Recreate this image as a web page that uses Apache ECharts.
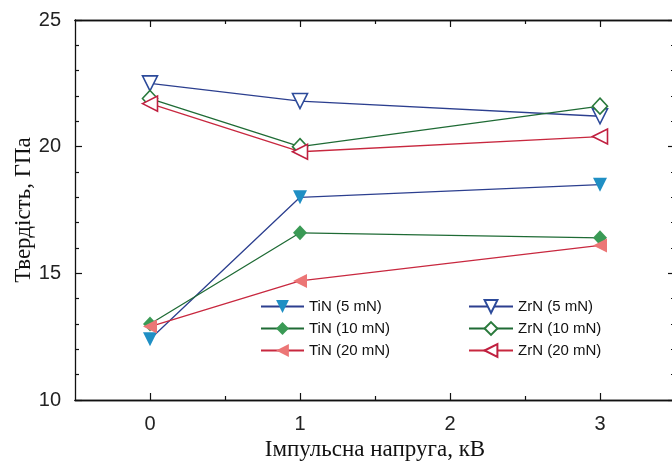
<!DOCTYPE html>
<html>
<head>
<meta charset="utf-8">
<script src="https://cdn.jsdelivr.net/npm/echarts@6/dist/echarts.min.js"></script>
<style>
  html, body { margin: 0; padding: 0; background: #fff; }
  #chart { width: 672px; height: 461px; }
</style>
</head>
<body>
<div id="chart"></div>
<script>
// pulse voltage, kV
const voltage = [0, 1, 3];

// hardness, GPa
const tin5 = [12.4, 18.0, 18.5];
const tin10 = [13.0, 16.6, 16.4];
const tin20 = [12.9, 14.7, 16.1];
const zrn5 = [22.5, 21.8, 21.2];
const zrn10 = [21.9, 20.0, 21.6];
const zrn20 = [21.7, 19.8, 20.4];

const xMajor = [0, 1, 2, 3];
const xMinor = [0.5, 1.5, 2.5];

function pairs(ys) {
    return voltage.map((x, i) => [x, ys[i]]);
}

function makeSeries(name, ys, lineColor, markColor, symbol, rotate, size, hollow) {
    return {
        name: name,
        type: 'line',
        data: pairs(ys),
        symbol: symbol,
        symbolSize: size,
        symbolRotate: rotate,
        lineStyle: { color: lineColor, width: 1.3 },
        itemStyle: hollow
            ? { color: '#fff', borderColor: markColor, borderWidth: 1.6 }
            : { color: markColor, borderWidth: 0 },
        emphasis: { disabled: true }
    };
}

const chart = echarts.init(document.getElementById('chart'), null, { renderer: 'canvas' });

const axisLine = { show: true, onZero: false, lineStyle: { color: '#111', width: 1.3 } };
const tickStyle = { color: '#111', width: 1.2 };

function xAxisDef(pos, values, len, labels) {
    return {
        type: 'value', min: -0.5, max: 3.5, position: pos,
        axisLine: axisLine,
        axisTick: { show: true, inside: true, length: len, customValues: values, lineStyle: tickStyle },
        axisLabel: labels ? {
            show: true, customValues: xMajor, margin: 14,
            fontFamily: 'Liberation Sans', fontSize: 20, color: '#222'
        } : { show: false },
        splitLine: { show: false }
    };
}

function yAxisDef(pos, labels) {
    return {
        type: 'value', min: 10, max: 25, interval: 5, position: pos,
        axisLine: axisLine,
        axisTick: { show: true, inside: true, length: 7, lineStyle: tickStyle },
        minorTick: { show: true, splitNumber: 5, length: 4, lineStyle: tickStyle },
        axisLabel: labels ? {
            show: true, margin: 14,
            fontFamily: 'Liberation Sans', fontSize: 20, color: '#222'
        } : { show: false },
        splitLine: { show: false },
        minorSplitLine: { show: false }
    };
}

const xs = [
    xAxisDef('bottom', xMajor, 7, true),
    xAxisDef('top', xMajor, 7, false),
    xAxisDef('bottom', xMinor, 4, false),
    xAxisDef('top', xMinor, 4, false)
];
xs[0].name = 'Імпульсна напруга, кВ';
xs[0].nameLocation = 'middle';
xs[0].nameGap = 36;
xs[0].nameTextStyle = { fontFamily: 'Liberation Serif', fontSize: 23, color: '#111' };

const ys = [yAxisDef('left', true), yAxisDef('right', false)];
ys[0].name = 'Твердість, ГПа';
ys[0].nameLocation = 'middle';
ys[0].nameGap = 40;
ys[0].nameMoveOverlap = false;
ys[0].nameTextStyle = { fontFamily: 'Liberation Serif', fontSize: 23, color: '#111' };

const legendText = { fontFamily: 'Liberation Sans', fontSize: 15, color: '#111' };

chart.setOption({
    animation: false,
    grid: { left: 75, right: -3, top: 20, bottom: 61, outerBoundsMode: 'none' },
    xAxis: xs,
    yAxis: ys,
    legend: [
        {
            orient: 'vertical', left: 260, top: 299, padding: 0,
            itemWidth: 43, itemHeight: 16, itemGap: 7,
            textStyle: legendText,
            data: ['TiN (5 mN)', 'TiN (10 mN)', 'TiN (20 mN)']
        },
        {
            orient: 'vertical', left: 468, top: 299, padding: 0,
            itemWidth: 44, itemHeight: 16, itemGap: 7,
            textStyle: legendText,
            data: ['ZrN (5 mN)', 'ZrN (10 mN)', 'ZrN (20 mN)']
        }
    ],
    series: [
        makeSeries('TiN (5 mN)', tin5, '#2c3f8f', '#1f8fc4', 'triangle', 180, 14, false),
        makeSeries('TiN (10 mN)', tin10, '#1f6b35', '#3a9a55', 'diamond', 0, [14, 15], false),
        makeSeries('TiN (20 mN)', tin20, '#c8283f', '#ec7676', 'triangle', 90, 14, false),
        makeSeries('ZrN (5 mN)', zrn5, '#2c3f8f', '#2c4a9a', 'triangle', 180, 15, true),
        makeSeries('ZrN (10 mN)', zrn10, '#1f6b35', '#2a7a3c', 'diamond', 0, [15, 16], true),
        makeSeries('ZrN (20 mN)', zrn20, '#c8283f', '#c02040', 'triangle', 90, 15, true)
    ]
});
</script>
</body>
</html>
